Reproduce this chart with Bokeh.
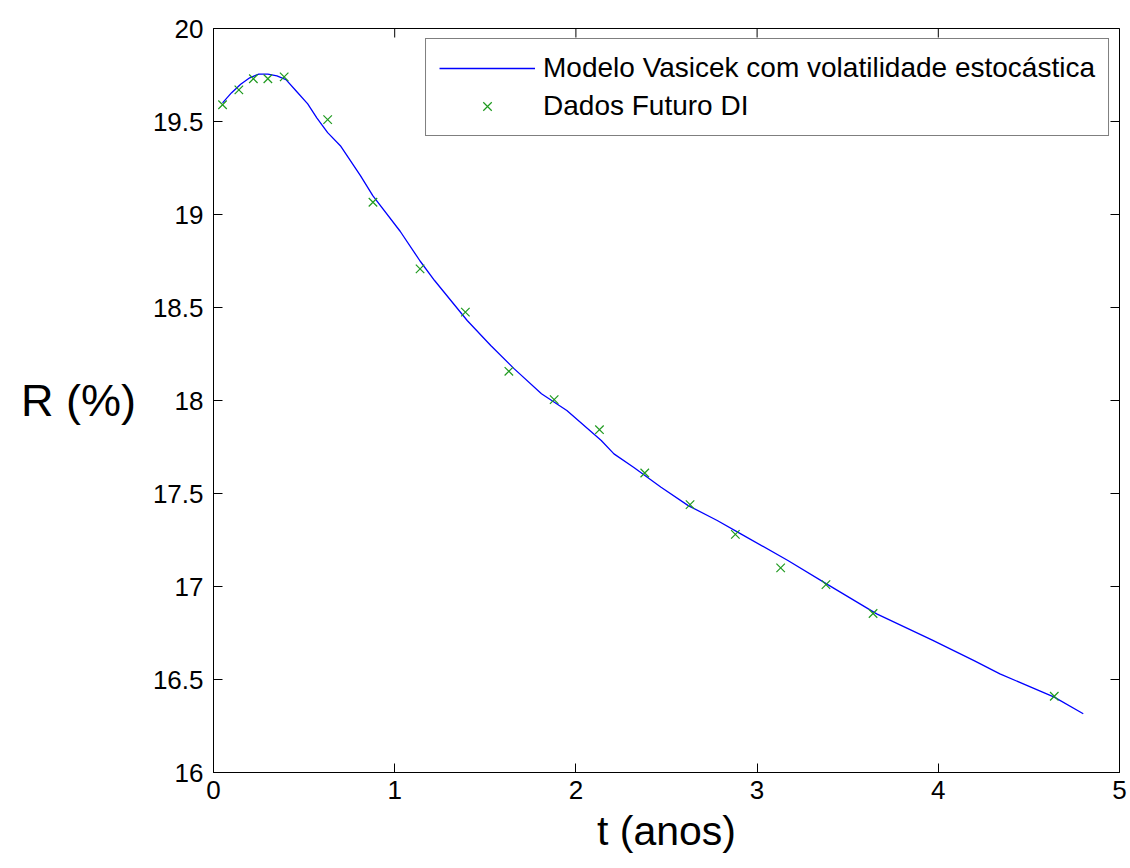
import math
from bokeh.plotting import figure
from bokeh.models import FixedTicker, Legend, LegendItem, Range1d
from bokeh.embed import file_html
from bokeh.resources import INLINE

model_t = [0.05, 0.10, 0.15, 0.20, 0.25, 0.30, 0.35, 0.40, 0.46, 0.52, 0.57, 0.63,
           0.70, 0.81, 0.88, 1.03, 1.14, 1.22, 1.40, 1.53, 1.66, 1.81, 1.95, 2.14,
           2.21, 2.32, 2.47, 2.62, 2.78, 2.91, 3.17, 3.39, 3.66, 3.97, 4.20, 4.34,
           4.64, 4.80]
model_r = [19.60, 19.655, 19.70, 19.735, 19.755, 19.755, 19.745, 19.725, 19.66, 19.595,
           19.52, 19.44, 19.37, 19.21, 19.10, 18.91, 18.75, 18.645, 18.43, 18.296,
           18.17, 18.036, 17.946, 17.785, 17.713, 17.64, 17.534, 17.435, 17.355,
           17.283, 17.14, 17.01, 16.853, 16.71, 16.60, 16.53, 16.405, 16.316]

# Futuro DI data
di_t = [0.05, 0.14, 0.22, 0.30, 0.39, 0.63, 0.88, 1.14, 1.39, 1.63, 1.88, 2.13,
        2.38, 2.63, 2.88, 3.13, 3.38, 3.64, 4.64]
di_r = [19.59, 19.67, 19.73, 19.73, 19.74, 19.51, 19.066, 18.708, 18.475, 18.157,
        18.005, 17.843, 17.61, 17.44, 17.28, 17.10, 17.01, 16.855, 16.41]

x_lim = (0, 5)
y_lim = (16, 20)
x_ticks = [0, 1, 2, 3, 4, 5]
y_ticks = [16, 16.5, 17, 17.5, 18, 18.5, 19, 19.5, 20]
y_tick_labels = ["16", "16.5", "17", "17.5", "18", "18.5", "19", "19.5", "20"]

FONT = "Liberation Sans"
TICK_LEN = 9

p = figure(width=1130, height=868, output_backend="svg", toolbar_location=None,
           x_range=Range1d(*x_lim), y_range=Range1d(*y_lim),
           min_border_left=213, min_border_right=11, min_border_top=28,
           min_border_bottom=96, background_fill_color="white",
           border_fill_color="white", outline_line_color="black",
           outline_line_width=1)
p.xgrid.visible = False
p.ygrid.visible = False

line_r = p.line(model_t, model_r, line_color="#0000ff", line_width=1.3)
pts_r = p.scatter(di_t, di_r, marker="x", size=12, line_color="#1f9a1f", line_width=1.2)

# inward ticks on the top and right edges (mirror of the bottom/left axes)
p.scatter(x_ticks, [y_lim[1]] * len(x_ticks), marker="dash", angle=math.pi / 2,
          size=2 * TICK_LEN, line_color="black", line_width=1)
p.scatter([x_lim[1]] * len(y_ticks), y_ticks, marker="dash",
          size=2 * TICK_LEN, line_color="black", line_width=1)

def style(ax, ticks):
    ax.ticker = FixedTicker(ticks=ticks)
    ax.minor_tick_line_color = None
    ax.major_tick_in = TICK_LEN
    ax.major_tick_out = 0
    ax.axis_line_color = "black"
    ax.major_tick_line_color = "black"
    ax.major_label_text_font = FONT
    ax.major_label_text_color = "black"
    ax.axis_label_text_font = FONT
    ax.axis_label_text_color = "black"
    ax.axis_label_text_font_style = "normal"

xa = p.xaxis[0]
style(xa, x_ticks)
xa.major_label_text_font_size = "26px"
xa.major_label_standoff = 8
xa.axis_label = "t (anos)"
xa.axis_label_text_font_size = "41px"
xa.axis_label_standoff = 6

ya = p.yaxis[0]
style(ya, y_ticks)
ya.major_label_overrides = {t: l for t, l in zip(y_ticks, y_tick_labels)}
ya.major_label_text_font_size = "26px"
ya.major_label_standoff = 10
ya.axis_label = "R (%)"
ya.axis_label_orientation = "horizontal"
ya.axis_label_text_font_size = "45px"
ya.axis_label_standoff = 14

legend = Legend(items=[
    LegendItem(label="Modelo Vasicek com volatilidade estocástica", renderers=[line_r]),
    LegendItem(label="Dados Futuro DI", renderers=[pts_r]),
], location="top_right")
legend.label_text_font = FONT
legend.label_text_font_size = "28px"
legend.label_text_color = "black"
legend.label_height = 30
legend.glyph_height = 30
legend.glyph_width = 96
legend.spacing = 6
legend.padding = 13
legend.margin = 10
legend.label_standoff = 8
legend.border_line_color = "black"
legend.border_line_width = 1.5
legend.background_fill_color = "white"
legend.background_fill_alpha = 1
p.add_layout(legend, "center")

open("out.html", "w").write(file_html(p, INLINE))
